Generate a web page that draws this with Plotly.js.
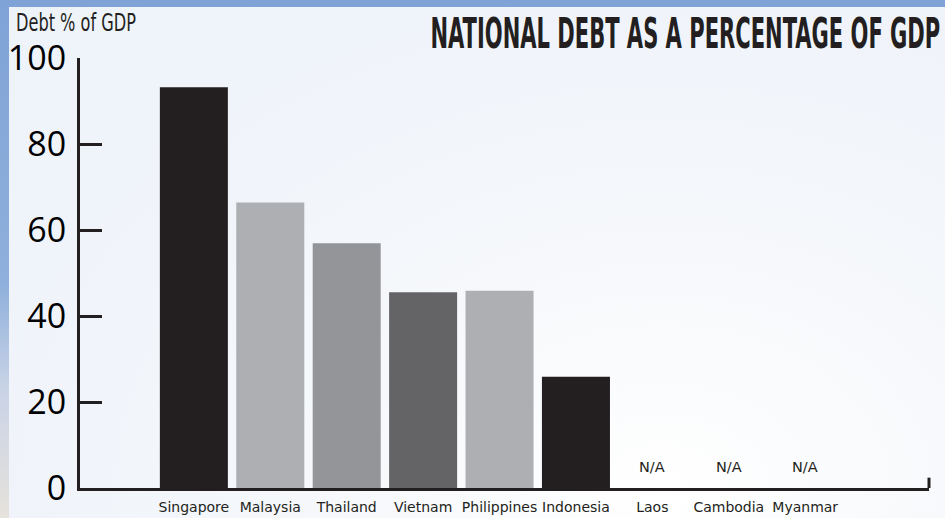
<!DOCTYPE html>
<html>
<head>
<meta charset="utf-8">
<script src="https://cdn.plot.ly/plotly-3.0.1.min.js"></script>
<style>
  html, body { margin: 0; padding: 0; width: 945px; height: 518px; overflow: hidden; }
  body { background: linear-gradient(180deg, #7fa3d6 0%, #8fb0dc 55%, #c9d3e6 75%, #e6e2dc 100%); position: relative; }
  #panel { position: absolute; left: 9px; top: 7px; right: 0; bottom: 0;
    background: radial-gradient(ellipse at 70% 95%, #ffffff 0%, #f6f8fb 35%, #f0f4fa 70%, #eef3fa 100%); }
  #chart { position: absolute; left: 0; top: 0; width: 945px; height: 518px; }
</style>
</head>
<body>
<div id="panel"></div>
<div id="chart"></div>
<script>
const countries = ["Singapore", "Malaysia", "Thailand", "Vietnam", "Philippines", "Indonesia", "Laos", "Cambodia", "Myanmar"];
const debtPct = [93.2, 66.4, 56.9, 45.5, 45.9, 25.9, null, null, null];
const barColors = ["#231f20", "#aeafb2", "#949598", "#646466", "#aeafb2", "#231f20", "#231f20", "#231f20", "#231f20"];
const naLabel = "N/A";
const yTicks = [0, 20, 40, 60, 80, 100];
const titleText = "NATIONAL DEBT AS A PERCENTAGE OF GDP";
const yTitleText = "Debt % of GDP";

const naCountries = countries.filter((c, i) => debtPct[i] === null);
const condensed = "'DejaVu Sans Condensed', 'Liberation Sans Narrow', 'DejaVu Sans', sans-serif";

const trace = {
  type: "bar",
  x: countries,
  y: debtPct,
  width: 0.89,
  marker: { color: barColors, line: { width: 0 } },
  hoverinfo: "x+y"
};

const annotations = naCountries.map(c => ({
  x: c, y: 5, xref: "x", yref: "y", text: naLabel, showarrow: false,
  font: { family: "'DejaVu Sans', sans-serif", size: 14.5, color: "#231f20" },
  yanchor: "middle"
}));
annotations.push({
  x: -66 / 849, y: 1 + 36 / 430, xref: "paper", yref: "paper", xanchor: "left", yanchor: "middle",
  text: yTitleText, showarrow: false,
  font: { family: condensed, size: 25, color: "#231f20" }
});

const layout = {
  width: 945, height: 518,
  paper_bgcolor: "rgba(0,0,0,0)",
  plot_bgcolor: "rgba(0,0,0,0)",
  margin: { l: 80, r: 16, t: 58, b: 30 },
  showlegend: false,
  title: {
    text: "<b>" + titleText + "</b>",
    x: 0.995, xanchor: "right", xref: "container",
    y: 0.935, yanchor: "middle", yref: "container",
    font: { family: condensed, size: 42, color: "#231f20" }
  },
  xaxis: {
    type: "category",
    range: [-1.49, 9.62],
    showline: true, linecolor: "#231f20", linewidth: 3,
    ticks: "", showgrid: false, zeroline: false,
    tickfont: { family: "'DejaVu Sans', sans-serif", size: 14, color: "#231f20" },
    ticklabelstandoff: 4,
    fixedrange: true
  },
  yaxis: {
    range: [0, 100],
    tickvals: yTicks,
    ticktext: yTicks.map(String),
    showline: true, linecolor: "#231f20", linewidth: 3,
    ticks: "inside", ticklen: 22, tickwidth: 3, tickcolor: "#231f20",
    showgrid: false, zeroline: false,
    tickfont: { family: "'Open Sans', 'DejaVu Sans', sans-serif", size: 34, color: "#000000" },
    ticklabelstandoff: 4,
    fixedrange: true
  },
  annotations: annotations,
  shapes: [{
    type: "line", xref: "paper", yref: "y", x0: 1, x1: 1, y0: 0, y1: 2.4,
    line: { color: "#231f20", width: 3 }
  }]
};

function squeeze(el, targetWidth, anchor) {
  if (!el) return;
  const bb = el.getBBox();
  if (!bb.width) return;
  const s = Math.min(1, targetWidth / bb.width);
  const ax = anchor === "right" ? bb.x + bb.width : bb.x;
  const prev = el.getAttribute("transform") || "";
  el.setAttribute("transform", prev + ` translate(${ax},0) scale(${s},1) translate(${-ax},0)`);
}

Plotly.newPlot("chart", [trace], layout, { displayModeBar: false }).then(gd => {
  const t = gd.querySelector(".gtitle");
  squeeze(t, 510, "right");
  const anns = gd.querySelectorAll(".annotation-text");
  const yt = anns[anns.length - 1];
  squeeze(yt, 120, "left");
});
</script>
</body>
</html>
